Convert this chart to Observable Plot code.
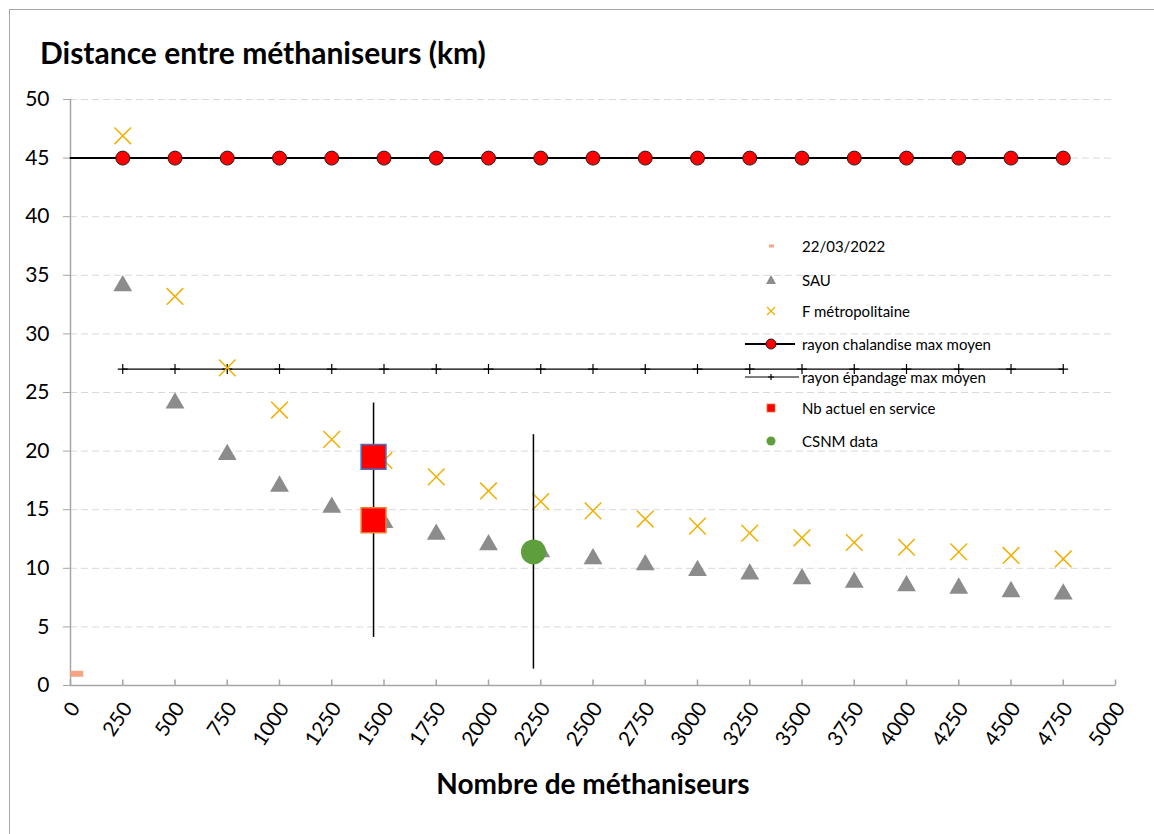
<!DOCTYPE html>
<html><head><meta charset="utf-8">
<script src="https://cdn.jsdelivr.net/npm/d3@7"></script>
<script src="https://cdn.jsdelivr.net/npm/@observablehq/plot@0.6"></script>
<style>
body{margin:0;background:#fff;font-family:Lato,"Open Sans",sans-serif;}
#wrap{position:relative;width:1154px;height:834px;overflow:hidden;background:#fff;}
#frame{position:absolute;left:9px;top:9px;width:1300px;height:1000px;border:1px solid #a6a6a6;}
#title{position:absolute;left:40px;top:34px;font-size:30px;font-weight:bold;color:#000;white-space:nowrap;}
#xtitle{position:absolute;left:0;width:1186px;text-align:center;top:766px;font-size:28px;font-weight:bold;color:#000;}
#chart{position:absolute;left:0;top:0;}
.lg{position:absolute;height:32px;line-height:32px;font-size:15px;color:#000;white-space:nowrap;}
.lg svg{position:absolute;left:0;top:6px;}
.lg span{position:absolute;left:57px;top:0;}
</style>
</head><body>
<div id="wrap">
  <div id="frame"></div>
  <div id="chart"></div>
  <div id="title">Distance entre méthaniseurs (km)</div>
  <div id="xtitle">Nombre de méthaniseurs</div>
  <div id="legend"></div>
</div>
<script>
// ---- data ----
const xTicks = [0,250,500,750,1000,1250,1500,1750,2000,2250,2500,2750,3000,3250,3500,3750,4000,4250,4500,4750,5000];
const yTicks = [0,5,10,15,20,25,30,35,40,45,50];
const nbMeth = [250,500,750,1000,1250,1500,1750,2000,2250,2500,2750,3000,3250,3500,3750,4000,4250,4500,4750];
const sau = [34.1,24.1,19.7,17.0,15.2,13.9,12.9,12.0,11.4,10.8,10.3,9.8,9.5,9.1,8.8,8.5,8.3,8.0,7.8];
const fMetro = [46.9,33.2,27.1,23.5,21.0,19.2,17.8,16.6,15.7,14.9,14.2,13.6,13.0,12.6,12.2,11.8,11.4,11.1,10.8];
const chalandiseX = [0,250,500,750,1000,1250,1500,1750,2000,2250,2500,2750,3000,3250,3500,3750,4000,4250,4500,4750];
const chalandise = [45,45,45,45,45,45,45,45,45,45,45,45,45,45,45,45,45,45,45,45];
const epandage = [27,27,27,27,27,27,27,27,27,27,27,27,27,27,27,27,27,27,27];
const dateX = [30], dateY = [1.0];
const nbActuelX = [1450,1450], nbActuelY = [19.5,14.1], nbActuelBorder = ["#4472c4","#ed7d31"];
const nbActuelErr = [0,10];
const csnmX = [2215], csnmY = [11.4], csnmErr = [10];

// ---- tables ----
const rows = nbMeth.map((x,i)=>({x, sau:sau[i], f:fMetro[i], ep:epandage[i]}));
const chal = chalandiseX.map((x,i)=>({x, y:chalandise[i]}));
const chalDots = chal.filter(d=>nbMeth.includes(d.x));
const nbRows = nbActuelX.map((x,i)=>({x, y:nbActuelY[i], s:nbActuelBorder[i], e:nbActuelErr[i]}));
const csRows = csnmX.map((x,i)=>({x, y:csnmY[i], e:csnmErr[i]}));
const errRows = [...nbRows, ...csRows].filter(d=>d.e>0).map(d=>({x:d.x, lo:d.y-d.e, hi:d.y+d.e}));
const dateRows = dateX.map((x,i)=>({x, y:dateY[i]}));

const tickUp = {draw(ctx){ctx.moveTo(0,0); ctx.lineTo(0,-6);}};
const dash = {draw(ctx){ctx.rect(-6.5,-3,13,6);}};

const chart = Plot.plot({
  width:1154, height:834,
  marginLeft:70, marginRight:39, marginTop:99, marginBottom:149,
  style:{fontFamily:"Lato, sans-serif", fontSize:"20px", color:"#000", background:"transparent", overflow:"visible"},
  x:{domain:[0,5000]},
  y:{domain:[0,50]},
  marks:[
    Plot.ruleY(yTicks.filter(d=>d>0), {y:d=>d, stroke:"#d9d9d9", strokeDasharray:"7,4", strokeWidth:1}),
    Plot.axisY({ticks:yTicks, tickSize:7, tickPadding:14, label:null, stroke:"#a6a6a6", fontSize:21}),
    Plot.axisX({ticks:xTicks, tickSize:0, tickPadding:19, tickRotate:-56, tickFormat:"d", label:null, fontSize:20.5, dx:5}),
    Plot.ruleX([0], {stroke:"#a6a6a6", strokeWidth:1.5}),
    Plot.ruleY([0], {stroke:"#a6a6a6", strokeWidth:1.5}),
    Plot.dot(xTicks, {x:d=>d, y:0, symbol:tickUp, stroke:"#a6a6a6", strokeWidth:1.5, fill:"none"}),
    Plot.dot(dateRows, {x:"x", y:"y", symbol:dash, fill:"#f4a582", stroke:"none"}),
    // épandage
    Plot.line(rows, {x:"x", y:"ep", stroke:"#000", strokeWidth:1.3}),
    Plot.dot(rows, {x:"x", y:"ep", symbol:"plus", r:3.3, stroke:"#000", strokeWidth:1.2}),
    // chalandise
    Plot.line(chal, {x:"x", y:"y", stroke:"#000", strokeWidth:2}),
    Plot.dot(chalDots, {x:"x", y:"y", r:7, fill:"#ff0000", stroke:"#222", strokeWidth:1}),
    // SAU
    Plot.dot(rows, {x:"x", y:"sau", symbol:"triangle", r:7, fill:"#8c8c8c", stroke:"none"}),
    // F métropolitaine
    Plot.dot(rows, {x:"x", y:"f", symbol:"times", r:7.6, stroke:"#f0b000", strokeWidth:1.5, fill:"none"}),
    // error bars
    Plot.ruleX(errRows, {x:"x", y1:"lo", y2:"hi", stroke:"#000", strokeWidth:1.5}),
    // Nb actuel
    Plot.dot(nbRows, {x:"x", y:"y", symbol:"square", r:14, fill:"#ff0000", stroke:"s", strokeWidth:1.5}),
    // CSNM
    Plot.dot(csRows, {x:"x", y:"y", r:12.5, fill:"#5f9e3d", stroke:"none"})
  ]
});
document.getElementById("chart").appendChild(chart);

// ---- legend ----
const legendLabels = ["22/03/2022","SAU","F métropolitaine","rayon chalandise max moyen","rayon épandage max moyen","Nb actuel en service","CSNM data"];
const legendIcons = [
  '<rect x="24" y="8.5" width="5" height="3" fill="#f4a582"/>',
  '<path d="M26,5 L31,14 L21,14 Z" fill="#8c8c8c"/>',
  '<path d="M22,6 L30,14 M30,6 L22,14" stroke="#f0b000" stroke-width="1.3"/>',
  '<line x1="0" y1="10" x2="50" y2="10" stroke="#000" stroke-width="2"/><circle cx="26" cy="10" r="5" fill="#ff0000" stroke="#222"/>',
  '<line x1="0" y1="10" x2="54" y2="10" stroke="#000" stroke-width="1.2"/><path d="M26,7 L26,13 M23,10 L29,10" stroke="#000" stroke-width="1.2"/>',
  '<rect x="22" y="6" width="8" height="8" fill="#ff0000" stroke="#ed7d31" stroke-width="0.8"/>',
  '<circle cx="26" cy="10" r="4.5" fill="#5f9e3d"/>'
];
const legendTops = [230,264,295,328,361,392,425];
const lg = document.getElementById("legend");
legendLabels.forEach((t,i)=>{
  const d = document.createElement("div");
  d.className = "lg";
  d.style.left = "745px";
  d.style.top = legendTops[i] + "px";
  d.innerHTML = '<svg width="56" height="20">' + legendIcons[i] + '</svg><span>' + t + '</span>';
  lg.appendChild(d);
});
</script>
</body></html>
